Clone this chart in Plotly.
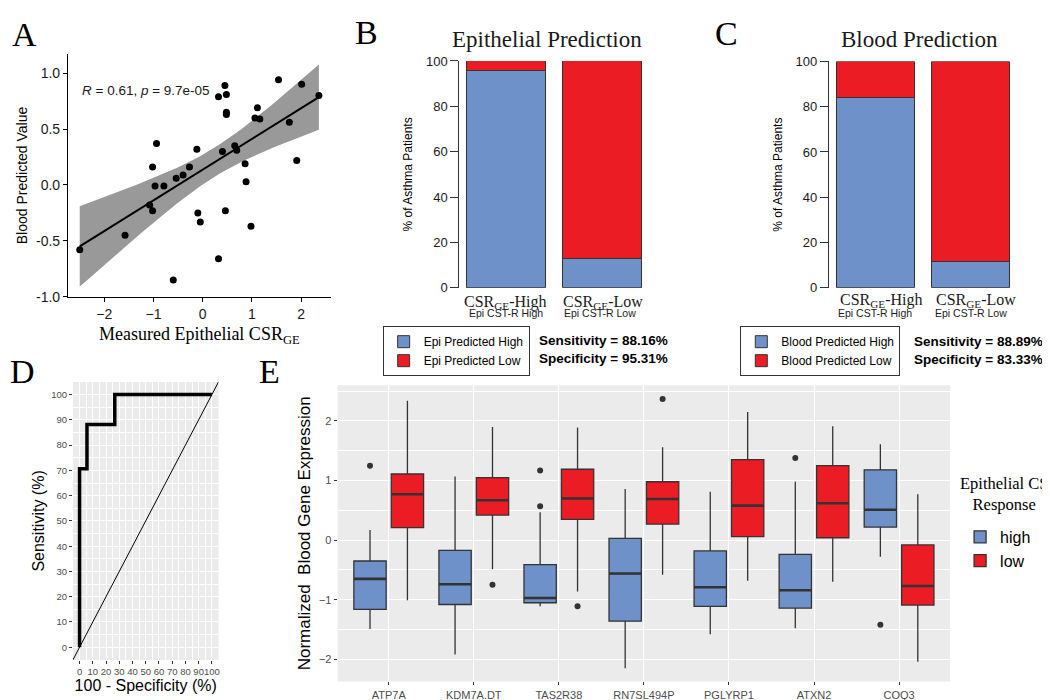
import numpy as np
import plotly.graph_objects as go

W, H = 1050, 700
def px(x): return x / W
def py(y): return 1 - y / H

SERIF = "Liberation Serif"
SANS = "Liberation Sans, Arial"
BLUE = "#6F91C9"
RED = "#EC1C24"
DARK = "#333333"
PANEL_BG = "#EBEBEB"

# ---------------- Panel A data ----------------
measured_epi_csr = [-2.50, -1.58, -0.94, -1.02, -0.97, -0.79, -1.08, -1.02, -0.60, -0.54,
                    -0.40, -0.27, -0.12, -0.10, -0.05, 0.32, 0.45, 0.48, 0.48, 0.48,
                    0.40, 0.32, 0.46, 0.65, 0.69, 0.86, 0.88, 0.98, 1.06, 1.11,
                    1.16, 1.54, 1.76, 1.91, 2.01, 2.36]
blood_predicted = [-0.58, -0.45, 0.37, 0.16, -0.01, -0.01, -0.18, -0.23, -0.85, 0.06,
                   0.09, 0.16, 0.32, -0.25, -0.33, 0.79, 0.89, 0.81, 0.65, 0.63,
                   0.30, -0.66, -0.23, 0.35, 0.31, 0.19, 0.03, -0.37, 0.60, 0.69,
                   0.59, 0.94, 0.56, 0.22, 0.90, 0.80]
a_yticks = [-1.0, -0.5, 0.0, 0.5, 1.0]
a_xticks = [-2, -1, 0, 1, 2]

# ---------------- Panel B / C data ----------------
bar_positions = [0, 1]
epi_pred_high = [95.7, 12.8]
epi_pred_low = [4.3, 87.2]
blood_pred_high = [84.0, 11.7]
blood_pred_low = [16.0, 88.3]
bar_ticks = [0, 20, 40, 60, 80, 100]

# ---------------- Panel D data ----------------
roc_fpr = [0, 0, 5.6, 5.6, 26.6, 26.6, 100]
roc_tpr = [0, 70.6, 70.6, 88.2, 88.2, 100, 100]
roc_range = [-5, 105]

# ---------------- Panel E data ----------------
genes = ["ATP7A", "KDM7A.DT", "TAS2R38", "RN7SL494P", "PGLYRP1", "ATXN2", "COQ3"]
high_q1 = [-1.16, -1.08, -1.05, -1.36, -1.11, -1.14, 0.22]
high_med = [-0.65, -0.74, -0.97, -0.56, -0.79, -0.84, 0.51]
high_q3 = [-0.35, -0.17, -0.41, 0.03, -0.18, -0.24, 1.18]
high_lo = [-1.49, -1.92, -1.11, -2.15, -1.58, -1.48, -0.28]
high_hi = [0.17, 1.07, 0.47, 0.86, 0.81, 0.98, 1.61]
low_q1 = [0.21, 0.42, 0.35, 0.27, 0.06, 0.04, -1.09]
low_med = [0.77, 0.67, 0.70, 0.69, 0.58, 0.62, -0.77]
low_q3 = [1.11, 1.05, 1.19, 0.98, 1.35, 1.25, -0.08]
low_lo = [-1.01, -0.49, -0.86, -0.58, -0.68, -0.70, -2.04]
low_hi = [2.34, 1.90, 1.89, 1.56, 2.15, 1.91, 0.77]
high_out_gene = ["ATP7A", "TAS2R38", "TAS2R38", "ATXN2", "COQ3"]
high_out_val = [1.25, 0.57, 1.17, 1.38, -1.42]
low_out_gene = ["KDM7A.DT", "TAS2R38", "RN7SL494P"]
low_out_val = [-0.75, -1.11, 2.37]

fig = go.Figure()

# ---------------- Panel A ----------------
xa = np.array(measured_epi_csr)
ya = np.array(blood_predicted)
n = len(xa)
slope, intercept = np.polyfit(xa, ya, 1)
resid = ya - (slope * xa + intercept)
s = np.sqrt(np.sum(resid ** 2) / (n - 2))
sxx = np.sum((xa - xa.mean()) ** 2)
t_crit = 2.032
xf = np.linspace(xa.min(), xa.max(), 80)
yf = slope * xf + intercept
se = s * np.sqrt(1 / n + (xf - xa.mean()) ** 2 / sxx)
upper = yf + t_crit * se
lower = yf - t_crit * se
fig.add_trace(go.Scatter(x=np.concatenate([xf, xf[::-1]]), y=np.concatenate([upper, lower[::-1]]),
                         fill="toself", fillcolor="#999999", line=dict(width=0), mode="lines",
                         hoverinfo="skip", showlegend=False, xaxis="x", yaxis="y"))
fig.add_trace(go.Scatter(x=xf, y=yf, mode="lines", line=dict(color="black", width=2),
                         showlegend=False, xaxis="x", yaxis="y"))
fig.add_trace(go.Scatter(x=xa, y=ya, mode="markers", marker=dict(color="black", size=7),
                         showlegend=False, xaxis="x", yaxis="y"))

# ---------------- Panel B ----------------
fig.add_trace(go.Bar(x=bar_positions, y=epi_pred_high, width=0.82, name="Epi Predicted High",
                     marker=dict(color=BLUE, line=dict(color=DARK, width=1)),
                     xaxis="x2", yaxis="y2", legend="legend"))
fig.add_trace(go.Bar(x=bar_positions, y=epi_pred_low, width=0.82, name="Epi Predicted Low",
                     marker=dict(color=RED, line=dict(color=DARK, width=1)),
                     xaxis="x2", yaxis="y2", legend="legend"))

# ---------------- Panel C ----------------
fig.add_trace(go.Bar(x=bar_positions, y=blood_pred_high, width=0.82, name="Blood Predicted High",
                     marker=dict(color=BLUE, line=dict(color=DARK, width=1)),
                     xaxis="x3", yaxis="y3", legend="legend2"))
fig.add_trace(go.Bar(x=bar_positions, y=blood_pred_low, width=0.82, name="Blood Predicted Low",
                     marker=dict(color=RED, line=dict(color=DARK, width=1)),
                     xaxis="x3", yaxis="y3", legend="legend2"))

# ---------------- Panel D ----------------
fig.add_trace(go.Scatter(x=roc_range, y=roc_range, mode="lines", line=dict(color="black", width=1),
                         showlegend=False, xaxis="x4", yaxis="y4"))
fig.add_trace(go.Scatter(x=roc_fpr, y=roc_tpr, mode="lines", line=dict(color="black", width=3.5),
                         showlegend=False, xaxis="x4", yaxis="y4"))

# ---------------- Panel E ----------------
gpos = np.arange(1, len(genes) + 1, dtype=float)
off, bw = 0.22, 0.38
for name, pos, q1, med, q3, lo, hi, col in [
    ("high", gpos - off, high_q1, high_med, high_q3, high_lo, high_hi, BLUE),
    ("low", gpos + off, low_q1, low_med, low_q3, low_lo, low_hi, RED),
]:
    fig.add_trace(go.Box(x=list(pos), q1=q1, median=med, q3=q3, lowerfence=lo, upperfence=hi,
                         orientation="v", width=bw, fillcolor=col, line=dict(color=DARK, width=1.3),
                         whiskerwidth=0, boxpoints=False, name=name, legend="legend3",
                         xaxis="x5", yaxis="y5"))
    mx, my = [], []
    for p, m in zip(pos, med):
        mx += [p - bw / 2, p + bw / 2, None]
        my += [m, m, None]
    fig.add_trace(go.Scatter(x=mx, y=my, mode="lines", line=dict(color=DARK, width=2.6),
                             showlegend=False, xaxis="x5", yaxis="y5", hoverinfo="skip"))

gidx = {g: i + 1 for i, g in enumerate(genes)}
fig.add_trace(go.Scatter(x=[gidx[g] - off for g in high_out_gene], y=high_out_val, mode="markers",
                         marker=dict(color=DARK, size=6), showlegend=False, xaxis="x5", yaxis="y5"))
fig.add_trace(go.Scatter(x=[gidx[g] + off for g in low_out_gene], y=low_out_val, mode="markers",
                         marker=dict(color=DARK, size=6), showlegend=False, xaxis="x5", yaxis="y5"))

# ---------------- Layout ----------------
tick_dark = dict(family=SANS, size=14, color="#1a1a1a")
gg_tick = dict(family=SANS, size=11, color="#4D4D4D")

layout = dict(
    width=W, height=H, margin=dict(l=0, r=0, t=0, b=0),
    paper_bgcolor="white", plot_bgcolor="white", barmode="stack",
    font=dict(family=SANS, color="black"),
    # A
    xaxis=dict(domain=[px(60), px(323)], range=[-2.74, 2.60], anchor="y", showline=True,
               linecolor="black", linewidth=1, ticks="outside", ticklen=4, tickcolor="black",
               tickvals=a_xticks, tickfont=tick_dark, showgrid=False, zeroline=False,
               title=dict(text="Measured Epithelial CSR<sub>GE</sub>", font=dict(family=SERIF, size=18),
                          standoff=6)),
    yaxis=dict(domain=[py(288), py(40)], range=[-1.0, 1.17], anchor="x", showline=True,
               linecolor="black", linewidth=1, ticks="outside", ticklen=4, tickcolor="black",
               tickvals=a_yticks, ticktext=["%.1f" % v for v in a_yticks], tickfont=tick_dark,
               showgrid=False, zeroline=False,
               title=dict(text="Blood Predicted Value", font=dict(family=SANS, size=14), standoff=5)),
    # B
    xaxis2=dict(domain=[px(451.7), px(640)], range=[-0.485, 1.47], anchor="y2", visible=False),
    yaxis2=dict(domain=[py(278.7), py(47)], range=[0, 100], anchor="x2", showline=True,
                linecolor=DARK, ticks="outside", ticklen=8, tickcolor=DARK, tickvals=bar_ticks,
                tickfont=dict(family=SANS, size=13, color="#1a1a1a"), showgrid=False, zeroline=False,
                title=dict(text="% of Asthma Patients", font=dict(family=SANS, size=12), standoff=10)),
    # C
    xaxis3=dict(domain=[px(821.7), px(1010)], range=[-0.49, 1.49], anchor="y3", visible=False),
    yaxis3=dict(domain=[py(278.7), py(47.5)], range=[0, 100], anchor="x3", showline=True,
                linecolor=DARK, ticks="outside", ticklen=8, tickcolor=DARK, tickvals=bar_ticks,
                tickfont=dict(family=SANS, size=13, color="#1a1a1a"), showgrid=False, zeroline=False,
                title=dict(text="% of Asthma Patients", font=dict(family=SANS, size=12), standoff=10)),
    # D
    xaxis4=dict(domain=[px(65), px(210.7)], range=roc_range, anchor="y4", tick0=0, dtick=10,
                tickangle=0, ticks="outside", ticklen=3, tickcolor=DARK,
                tickfont=dict(family=SANS, size=9.5, color="#4D4D4D"),
                showgrid=True, gridcolor="white", gridwidth=1, zeroline=False, showline=False,
                minor=dict(dtick=5, tick0=0, showgrid=True, gridcolor="white", gridwidth=0.5),
                title=dict(text="100 - Specificity (%)", font=dict(family=SANS, size=16), standoff=3)),
    yaxis4=dict(domain=[py(659), py(375)], range=roc_range, anchor="x4", tick0=0, dtick=10,
                ticks="outside", ticklen=3, tickcolor=DARK, tickfont=dict(family=SANS, size=9.5, color="#4D4D4D"),
                showgrid=True, gridcolor="white", gridwidth=1, zeroline=False, showline=False,
                minor=dict(dtick=5, tick0=0, showgrid=True, gridcolor="white", gridwidth=0.5),
                title=dict(text="Sensitivity (%)", font=dict(family=SANS, size=16), standoff=2)),
    # E
    xaxis5=dict(domain=[px(330), px(943)], range=[0.4, len(genes) + 0.6], anchor="y5",
                tickmode="array", tickvals=list(gpos), ticktext=genes, ticks="outside", ticklen=3,
                tickcolor=DARK, tickfont=gg_tick, showgrid=True, gridcolor="white", gridwidth=1.2,
                zeroline=False, showline=False, tickangle=0),
    yaxis5=dict(domain=[py(681), py(378.3)], range=[-2.37, 2.6], anchor="x5", tick0=0, dtick=1,
                ticks="outside", ticklen=3, tickcolor=DARK, tickfont=gg_tick, showgrid=True,
                gridcolor="white", gridwidth=1.2, zeroline=False, showline=False,
                minor=dict(dtick=0.5, tick0=0, showgrid=True, gridcolor="white", gridwidth=0.5),
                title=dict(text="Normalized  Blood Gene Expression", font=dict(family=SANS, size=17),
                           standoff=3)),
    legend=dict(x=px(375), y=py(318), xanchor="left", yanchor="top", bordercolor=DARK, borderwidth=1,
                bgcolor="white", font=dict(family=SANS, size=12, color="black"), traceorder="normal"),
    legend2=dict(x=px(733), y=py(318), xanchor="left", yanchor="top", bordercolor=DARK, borderwidth=1,
                 bgcolor="white", font=dict(family=SANS, size=12, color="black"), traceorder="normal"),
    legend3=dict(x=px(953), y=py(516), xanchor="left", yanchor="top", borderwidth=0, bgcolor="white",
                 font=dict(family=SANS, size=16, color="black"), traceorder="normal"),
    shapes=[
        dict(type="rect", xref="x4 domain", yref="y4 domain", x0=0, x1=1, y0=0, y1=1,
             fillcolor=PANEL_BG, line=dict(width=0), layer="below"),
        dict(type="rect", xref="x5 domain", yref="y5 domain", x0=0, x1=1, y0=0, y1=1,
             fillcolor=PANEL_BG, line=dict(width=0), layer="below"),
    ],
)
fig.update_layout(**layout)

ann = []
def add_text(x, y, text, font, xanchor="center", yanchor="middle", align="center"):
    ann.append(dict(x=px(x), y=py(y), xref="paper", yref="paper", text=text, showarrow=False,
                    xanchor=xanchor, yanchor=yanchor, font=font, align=align))

letter_font = dict(family=SERIF, size=34, color="black")
add_text(2, 20, "A", letter_font, xanchor="left")
add_text(345, 18, "B", letter_font, xanchor="left")
add_text(706, 19, "C", letter_font, xanchor="left")
add_text(0, 364, "D", letter_font, xanchor="left")
add_text(249, 364, "E", letter_font, xanchor="left")

add_text(72, 77, "<i>R</i> = 0.61, <i>p</i> = 9.7e-05", dict(family=SANS, size=13.5, color="#1a1a1a"),
         xanchor="left")

add_text(540, 25, "Epithelial Prediction", dict(family=SERIF, size=23, color="#1a1a1a"))
add_text(912, 25, "Blood Prediction", dict(family=SERIF, size=23, color="#1a1a1a"))

cat_font = dict(family=SERIF, size=16, color="#1a1a1a")
sub_font = dict(family=SANS, size=10.5, color="#1a1a1a")
add_text(498, 294, "CSR<sub>GE</sub>-High", cat_font)
add_text(596, 294, "CSR<sub>GE</sub>-Low", cat_font)
add_text(498, 305, "Epi CST-R High", sub_font)
add_text(593, 305, "Epi CST-R Low", sub_font)
add_text(874, 292, "CSR<sub>GE</sub>-High", cat_font)
add_text(969, 292, "CSR<sub>GE</sub>-Low", cat_font)
add_text(868, 305, "Epi CST-R High", sub_font)
add_text(964, 305, "Epi CST-R Low", sub_font)

stat_font = dict(family=SANS, size=13.5, color="black")
add_text(530, 333, "<b>Sensitivity = 88.16%</b>", stat_font, xanchor="left")
add_text(530, 351, "<b>Specificity = 95.31%</b>", stat_font, xanchor="left")
add_text(905, 334, "<b>Sensitivity = 88.89%</b>", stat_font, xanchor="left")
add_text(905, 352, "<b>Specificity = 83.33%</b>", stat_font, xanchor="left")

# legend title for panel E
add_text(997, 490, "Epithelial CS<br>Response", dict(family=SERIF, size=16.5, color="black"))

fig.update_layout(annotations=ann)
fig.write_html("out.html")
